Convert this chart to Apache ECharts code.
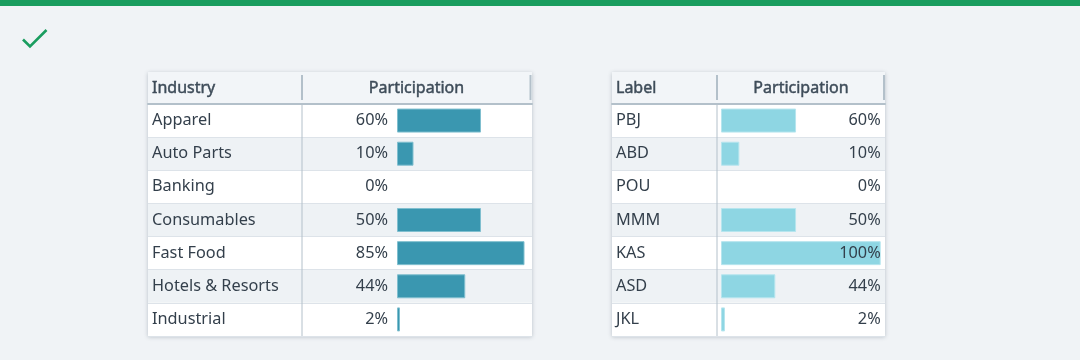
<!DOCTYPE html>
<html>
<head>
<meta charset="utf-8">
<script src="https://cdn.jsdelivr.net/npm/echarts@6/dist/echarts.min.js"></script>
<style>
html,body{margin:0;padding:0;background:#f0f3f6;}
#c{width:1080px;height:360px;}
</style>
</head>
<body>
<div id="c"></div>
<script>
// ---- data ----
const industries = ['Apparel', 'Auto Parts', 'Banking', 'Consumables', 'Fast Food', 'Hotels & Resorts', 'Industrial'];
const industryPct = ['60%', '10%', '0%', '50%', '85%', '44%', '2%'];
const industryBar = [56, 11, 0, 56, 85, 45.5, 2];
const labels = ['PBJ', 'ABD', 'POU', 'MMM', 'KAS', 'ASD', 'JKL'];
const labelPct = ['60%', '10%', '0%', '50%', '100%', '44%', '2%'];
const labelBar = [47, 11.5, 0, 47, 100, 34, 2.5];
const headersLeft = ['Industry', 'Participation'];
const headersRight = ['Label', 'Participation'];

const FONT = 'Noto Sans';
const FS = 16.3;
const TXT = '#333f4b';
const HDR = '#3e4c59';
const LINE = '#b3c0ca';

const chart = echarts.init(document.getElementById('c'));

function frameGrid(left, width) {
  return {left: left, top: 72, width: width, height: 264, show: true, backgroundColor: '#f2f5f8',
    borderWidth: 0, shadowBlur: 4, shadowColor: 'rgba(40,60,80,0.28)', shadowOffsetY: 1, containLabel: false};
}
const grids = [
  frameGrid(148, 384),
  {left: 148, top: 104, width: 384, height: 232},
  {left: 397, top: 104, width: 150, height: 232},
  frameGrid(612, 273),
  {left: 612, top: 104, width: 273, height: 232},
  {left: 721, top: 104, width: 159.7, height: 232}
];

const hiddenX = i => ({type: 'value', gridIndex: i, show: false, min: 0, max: 100});
const bodyX = i => ({type: 'value', gridIndex: i, position: 'top', min: 0, max: 1,
  axisLine: {show: true, onZero: false, lineStyle: {color: LINE, width: 2}},
  axisTick: {show: false}, axisLabel: {show: false}, splitLine: {show: false}});
const bodyY = (i, names) => ({type: 'category', gridIndex: i, inverse: true, data: names,
  axisLine: {show: false}, axisTick: {show: false},
  axisLabel: {inside: true, margin: 4, fontSize: FS, color: TXT, fontFamily: FONT, padding: [2, 0, 0, 0]},
  splitArea: {show: true, areaStyle: {color: ['#ffffff', '#eef2f5']}},
  splitLine: {show: true, lineStyle: {color: '#dde3e9', width: 1}}});
const hiddenY = (i, names) => ({type: 'category', gridIndex: i, inverse: true, data: names, show: false});

const xAxis = [hiddenX(0), bodyX(1), hiddenX(2), hiddenX(3), bodyX(4), hiddenX(5)];
const yAxis = [
  hiddenY(0, industries), bodyY(1, industries), hiddenY(2, industries),
  hiddenY(3, labels), bodyY(4, labels), hiddenY(5, labels),
  {type: 'category', gridIndex: 5, inverse: true, data: labels, position: 'right', z: 5,
    axisLine: {show: false}, axisTick: {show: false}, splitLine: {show: false},
    axisLabel: {inside: true, margin: 0, fontSize: FS, color: TXT, fontFamily: FONT, padding: [2, 0, 0, 0],
      formatter: (v, i) => labelPct[i]}}
];

const barData = (vals, border) => vals.map(v => ({value: v, itemStyle: {borderWidth: v > 0 ? 1 : 0, borderColor: border}}));

function vline(x, y1, y2, w) {
  return {type: 'line', shape: {x1: x, y1: y1, x2: x, y2: y2}, style: {stroke: LINE, lineWidth: w}, z: 10};
}
function htext(x, y, t, align) {
  return {type: 'text', x: x, y: y, z: 10, style: {text: t, fill: HDR, font: '400 16px "' + FONT + '"',
    stroke: HDR, lineWidth: 0.45, align: align, verticalAlign: 'middle'}};
}

const option = {
  backgroundColor: '#f0f3f6',
  animation: false,
  grid: grids,
  xAxis: xAxis,
  yAxis: yAxis,
  series: [
    {type: 'bar', xAxisIndex: 2, yAxisIndex: 2, data: barData(industryBar, '#80bfcf'), barWidth: 24,
      itemStyle: {color: '#3a97b0'},
      label: {show: true, position: 'left', distance: 9, fontSize: FS, color: TXT, fontFamily: FONT, padding: [2, 0, 0, 0],
        formatter: p => industryPct[p.dataIndex]}},
    {type: 'bar', xAxisIndex: 5, yAxisIndex: 5, data: barData(labelBar, '#b6e5ee'), barWidth: 24,
      itemStyle: {color: '#8ed6e3'}}
  ],
  graphic: [
    {type: 'rect', shape: {x: 0, y: 0, width: 1080, height: 6}, style: {fill: '#1a9d5f'}, z: 10},
    {type: 'polyline', shape: {points: [[23, 39.5], [30, 46.5], [46.5, 30]]},
      style: {stroke: '#1a9d5f', lineWidth: 2.6, fill: null}, z: 10},
    vline(302, 75, 100, 2), vline(302, 104, 336, 1), vline(530.5, 75, 100, 2),
    vline(717, 75, 100, 2), vline(717, 104, 336, 1), vline(884, 75, 100, 2),
    htext(152, 88.5, headersLeft[0], 'left'),
    htext(416.5, 88.5, headersLeft[1], 'center'),
    htext(616, 88.5, headersRight[0], 'left'),
    htext(801, 88.5, headersRight[1], 'center')
  ]
};
chart.setOption(option);
</script>
</body>
</html>
